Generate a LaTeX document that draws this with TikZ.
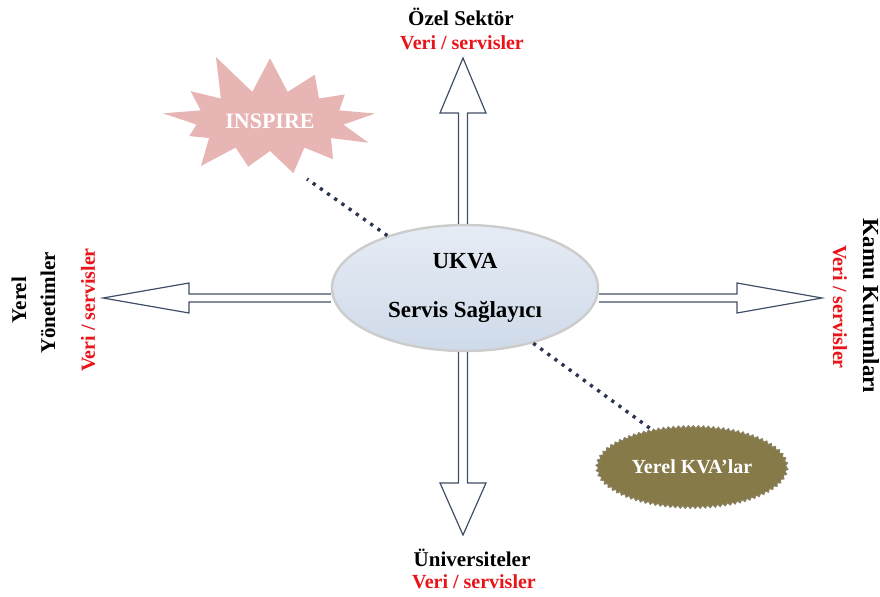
\documentclass[tikz,border=0pt]{standalone}
\usepackage{fontspec}
\setmainfont{Liberation Serif}
\usetikzlibrary{shapes.geometric, shapes.symbols, calc, decorations.pathmorphing}
\definecolor{arrowline}{HTML}{3F4F66}
\definecolor{vred}{HTML}{E8141A}
\definecolor{burst}{HTML}{E7B5B3}
\definecolor{olive}{HTML}{857A48}
\definecolor{oliveedge}{HTML}{6B6137}
\definecolor{dotcol}{HTML}{2B3550}
\definecolor{hubtop}{HTML}{E6ECF5}
\definecolor{hubbot}{HTML}{CFDAE9}
\tikzstyle{blockarrow}=[draw=arrowline,line width=0.6pt,line join=miter]
\tikzstyle{lbl}=[font=\bfseries\fontsize{10.5}{12}\selectfont,inner sep=0pt]
\tikzstyle{redlbl}=[text=vred,font=\bfseries\fontsize{10}{12}\selectfont,inner sep=0pt]
\tikzstyle{dotline}=[draw=dotcol,line width=1.7pt,dash pattern=on 1.6pt off 2.8pt]

\begin{document}
\begin{tikzpicture}[x=0.5pt,y=-0.5pt]
    \useasboundingbox (0,0) rectangle (880,596);
    % hub
    \node[ellipse,minimum width=133pt,minimum height=63pt,inner sep=0pt,
          top color=hubtop,bottom color=hubbot,draw=gray!40,line width=1.2pt,
          align=center,font=\bfseries\fontsize{11.5}{24.5}\selectfont] (ukva) at (465,288) {UKVA\\Servis Sağlayıcı};
    % labels round the hub
    \node[lbl] (ozel) at (461,17) {Özel Sektör};
    \node[redlbl] (ozelv) at (462,43) {Veri / servisler};
    \node[lbl] (univ) at (472,558) {Üniversiteler};
    \node[redlbl] (univv) at (474,582) {Veri / servisler};
    \node[lbl,rotate=90] (yerel) at (19,300) {Yerel};
    \node[lbl,rotate=90] (yonet) at (48,303) {Yönetimler};
    \node[redlbl,rotate=90] (yerelv) at (88,310) {Veri / servisler};
    \node[lbl,rotate=-90,font=\bfseries\fontsize{11.5}{12}\selectfont] (kamu) at (871,306) {Kamu Kurumları};
    \node[redlbl,rotate=-90] (kamuv) at (840,307) {Veri / servisler};
    % arrow tips and roots
    \coordinate (tipN) at (463,58);
    \coordinate (tipS) at (463,535);
    \coordinate (tipW) at (103,298);
    \coordinate (tipE) at (822,298);
    \coordinate (srcN) at (ukva.north -| tipN);
    \coordinate (srcS) at (ukva.south -| tipS);
    \coordinate (srcW) at (ukva.west |- tipW);
    \coordinate (srcE) at (ukva.east |- tipE);
    \foreach \s/\t/\hl/\hw/\sw in {srcN/tipN/27.5pt/11.5pt/2.25pt, srcS/tipS/26pt/11.5pt/2.25pt, srcW/tipW/43pt/7.5pt/2pt, srcE/tipE/42.5pt/7.5pt/2pt} {
        \coordinate (hb) at ($(\t)!\hl!(\s)$);
        \draw[blockarrow] ($(\s)!\sw!90:(\t)$) -- ($(hb)!\sw!90:(\t)$) -- ($(hb)!\hw!90:(\t)$) -- (\t)
            -- ($(hb)!\hw!-90:(\t)$) -- ($(hb)!\sw!-90:(\t)$) -- ($(\s)!\sw!-90:(\t)$);
    }
    % side nodes
    \node[starburst,starburst points=13,starburst point height=22pt,random starburst=11,
          minimum width=118pt,minimum height=74pt,fill=burst,inner sep=0pt,text=white,
          font=\bfseries\fontsize{11}{12}\selectfont] (inspire) at (270,121) {INSPIRE};
    \node[ellipse,minimum width=81.5pt,minimum height=40pt,fill=olive,draw=oliveedge!80,line width=0.5pt,
          decorate,decoration={zigzag,segment length=2.5pt,amplitude=0.7pt},text=white,
          font=\bfseries\fontsize{10}{12}\selectfont] (kva) at (692,467) {Yerel KVA’lar};
    \coordinate (inspireend) at (307,179);
    \draw[dotline] (ukva.146) -- (inspireend);
    \draw[dotline] (ukva.-39) -- (kva.137);
\end{tikzpicture}
\end{document}
